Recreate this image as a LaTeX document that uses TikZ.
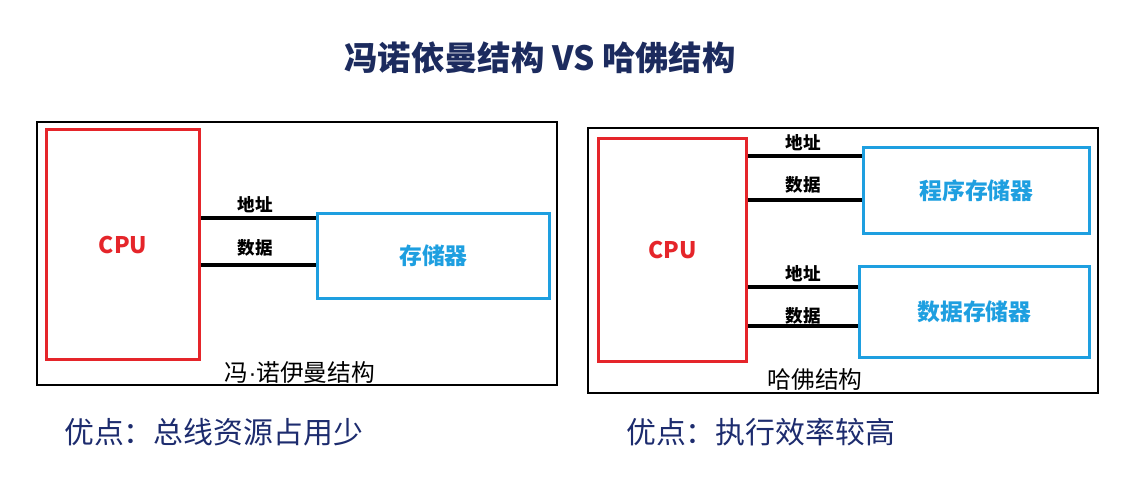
\documentclass[tikz,border=0pt]{standalone}
\usepackage{fontspec}
\setmainfont{Liberation Sans}
\newfontfamily\cjk{Noto Sans CJK SC}
\definecolor{cpured}{HTML}{E5252A}
\definecolor{memblue}{HTML}{1E9FE0}
\definecolor{titlenavy}{HTML}{1C2B5E}
\definecolor{notenavy}{HTML}{1D2C6E}
\tikzset{
  archframe/.style={draw=black, line width=1.1pt},
  cpubox/.style={rectangle, draw=cpured, line width=1.8pt, anchor=north west,
                 text=cpured, font=\cjk\bfseries\fontsize{13}{15}\selectfont},
  membox/.style={rectangle, draw=memblue, line width=1.8pt, anchor=north west,
                 text=memblue, font=\cjk\bfseries\fontsize{13}{15}\selectfont},
  bus/.style={draw=black, line width=1.8pt},
  buslabel/.style={font=\cjk\bfseries\fontsize{10}{12}\selectfont},
  archcaption/.style={font=\cjk\fontsize{13.5}{16}\selectfont},
  merit/.style={anchor=west, text=notenavy, font=\cjk\fontsize{17}{20}\selectfont}
}
\begin{document}
\begin{tikzpicture}[x=0.02cm, y=-0.02cm]
  \useasboundingbox (0,0) rectangle (1144,485);

  \node[text=titlenavy, font=\cjk\bfseries\fontsize{19}{23}\selectfont]
    (title) at (540,58) {冯诺依曼结构 VS 哈佛结构};

  % von Neumann
  \draw[archframe] (37,122) rectangle (557,385);
  \node[cpubox, minimum width=3.06cm, minimum height=4.6cm] (cpuL) at (45,128) {CPU\hspace{8pt}};
  \node[membox, minimum width=4.64cm, minimum height=1.7cm] (memL) at (316,212) {存储器\hspace{10pt}};
  \coordinate (addrL) at (0,218);
  \coordinate (dataL) at (0,265);
  \draw[bus] (cpuL.east |- addrL) -- (memL.west |- addrL);
  \draw[bus] (cpuL.east |- dataL) -- (memL.west |- dataL);
  \node[buslabel] (addrLlbl) at (255,205) {地址};
  \node[buslabel] (dataLlbl) at (255,248) {数据};
  \node[archcaption] (capL) at (300,372) {冯{\rmfamily\textperiodcentered}诺伊曼结构};

  % Harvard
  \draw[archframe] (588,128) rectangle (1098,393);
  \node[cpubox, minimum width=2.96cm, minimum height=4.46cm] (cpuR) at (597,137) {CPU\hspace{8pt}};
  \node[membox, minimum width=4.52cm, minimum height=1.72cm] (prog) at (862,146) {程序存储器\hspace{10pt}};
  \node[membox, minimum width=4.6cm, minimum height=1.82cm] (datamem) at (858,265) {数据存储器\hspace{10pt}};
  \coordinate (addrP) at (0,156);
  \coordinate (dataP) at (0,200);
  \coordinate (addrD) at (0,287);
  \coordinate (dataD) at (0,326);
  \draw[bus] (cpuR.east |- addrP) -- (prog.west |- addrP);
  \draw[bus] (cpuR.east |- dataP) -- (prog.west |- dataP);
  \draw[bus] (cpuR.east |- addrD) -- (datamem.west |- addrD);
  \draw[bus] (cpuR.east |- dataD) -- (datamem.west |- dataD);
  \node[buslabel] (addrPlbl) at (803,143) {地址};
  \node[buslabel] (dataPlbl) at (803,185) {数据};
  \node[buslabel] (addrDlbl) at (803,274) {地址};
  \node[buslabel] (dataDlbl) at (803,316) {数据};
  \node[archcaption] (capR) at (815,379) {哈佛结构};

  \node[merit] (meritL) at (58,432) {优点：总线资源占用少};
  \node[merit] (meritR) at (620,432) {优点：执行效率较高};
\end{tikzpicture}
\end{document}
